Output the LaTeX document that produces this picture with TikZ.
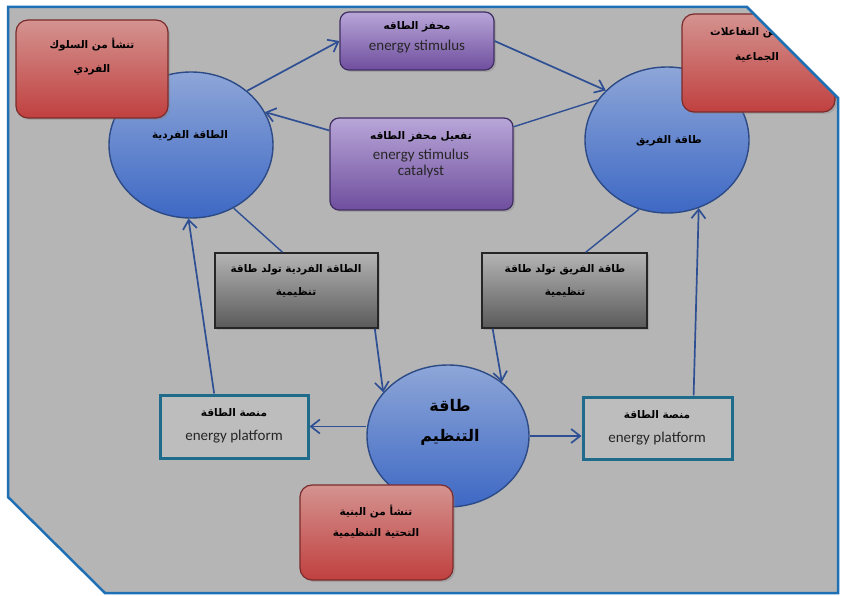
\documentclass[tikz,border=0pt]{standalone}
\usepackage{fontspec}
\setmainfont{Carlito}
\newfontfamily\arabicfont[Script=Arabic]{DejaVu Sans}
\TeXXeTstate=1
\usetikzlibrary{arrows.meta,shapes.geometric,shadows}
\newcommand\ArT[1]{{\arabicfont\bfseries\beginR #1\endR}}
\definecolor{panelgray}{HTML}{B5B5B5}
\definecolor{panelblue}{HTML}{1F6FB5}
\definecolor{circtop}{HTML}{8EA6D8}
\definecolor{circbot}{HTML}{3D68C4}
\definecolor{circline}{HTML}{2C4A86}
\definecolor{redtop}{HTML}{D49390}
\definecolor{redbot}{HTML}{C0403F}
\definecolor{redline}{HTML}{7B2B2B}
\definecolor{purtop}{HTML}{B8A6D8}
\definecolor{purbot}{HTML}{6F4E9E}
\definecolor{purline}{HTML}{3F2E63}
\definecolor{graytop}{HTML}{B4B4B4}
\definecolor{graybot}{HTML}{5A5A5A}
\definecolor{platline}{HTML}{1E6B8C}
\definecolor{platfill}{HTML}{BDBDBD}
\definecolor{arrblue}{HTML}{2F4F94}
\tikzset{
  circ/.style={ellipse, draw=circline, line width=1.4pt, top color=circtop, bottom color=circbot, minimum width=164pt, minimum height=146pt, inner sep=0pt},
  redbox/.style={rectangle, rounded corners=12pt, draw=redline, line width=1.2pt, top color=redtop, bottom color=redbot, inner sep=0pt, drop shadow={shadow xshift=2pt, shadow yshift=-2pt, opacity=0.35}},
  purbox/.style={rectangle, rounded corners=9pt, draw=purline, line width=1.2pt, top color=purtop, bottom color=purbot, inner sep=0pt, drop shadow={shadow xshift=2pt, shadow yshift=-2pt, opacity=0.35}},
  graybox/.style={rectangle, draw=black!85, line width=1.4pt, top color=graytop, bottom color=graybot, inner sep=0pt, drop shadow={shadow xshift=2pt, shadow yshift=-2pt, opacity=0.35}},
  platbox/.style={rectangle, draw=platline, line width=3pt, fill=platfill, inner sep=0pt},
  artext/.style={inner sep=0pt, font=\fontsize{10.5}{12}\selectfont, text=black},
  entext/.style={inner sep=0pt, font=\fontsize{15}{17}\selectfont, text=black!85},
  arr/.style={draw=arrblue, line width=1.7pt, -{Straight Barb[length=9pt,width=14pt,line width=1.7pt]}},
  ln/.style={draw=arrblue, line width=1.4pt},
}
\begin{document}
\begin{tikzpicture}[x=1pt,y=-1pt]
\useasboundingbox (0,0) rectangle (841,596);
\fill[white] (0,0) rectangle (841,596);
% panel
\fill[panelgray] (8,7) -- (747,7) -- (838,98) -- (838,593) -- (105,593) -- (8,497) -- cycle;

% circles
\node[circ] (lc) at (191,145) {};
\node[circ] (rc) at (667,140) {};
\node[circ, minimum width=162pt, minimum height=142pt] (bc) at (448,436) {};

% boxes
\node[redbox, minimum width=152pt, minimum height=98pt] (rtl) at (92,69) {};
\begin{scope}
\clip (0,0) -- (740,0) -- (841,101) -- (841,596) -- (0,596) -- cycle;
\node[redbox, minimum width=153pt, minimum height=98pt] (rtr) at (758.5,63) {};
\node[artext, anchor=west] (rtr1) at (710,32) {\ArT{تنشأ من التفاعلات}};
\end{scope}
\node[redbox, minimum width=153pt, minimum height=95pt] (rb) at (376.5,532.5) {};
\node[purbox, minimum width=154pt, minimum height=58pt] (sp) at (417,41) {};
\node[purbox, minimum width=183pt, minimum height=92pt] (mp) at (421.5,164) {};
\node[graybox, minimum width=163pt, minimum height=75pt] (lg) at (296.5,290.5) {};
\node[graybox, minimum width=165pt, minimum height=75pt] (rg) at (564.5,290.5) {};
\node[platbox, minimum width=148pt, minimum height=63pt] (lp) at (234,426.5) {};
\node[platbox, minimum width=149pt, minimum height=62pt] (rp) at (657.5,428) {};

% panel border
\draw[panelblue, line width=2.5pt, line join=miter] (8,7) -- (747,7) -- (838,98) -- (838,593) -- (105,593) -- (8,497) -- cycle;

% texts
\node[artext] (t1a) at (92,45) {\ArT{تنشأ من السلوك}};
\node[artext] (t1b) at (92,70) {\ArT{الفردي}};
\node[artext] (t2) at (190,136) {\ArT{الطاقة الفردية}};
\node[artext] (t3a) at (417,27) {\ArT{محفز الطاقه}};
\node[entext] (t3b) at (417,47) {energy stimulus};
\node[artext] (t4a) at (421,137) {\ArT{تفعيل محفز الطاقه}};
\node[entext] (t4b) at (421,156) {energy stimulus};
\node[entext] (t4c) at (421,172) {catalyst};
\node[artext] (t5) at (669,141) {\ArT{طاقة الفريق}};
\node[artext] (rtr2) at (757,57) {\ArT{الجماعية}};
\node[artext] (t6a) at (296,270) {\ArT{الطاقة الفردية تولد طاقة}};
\node[artext] (t6b) at (296,292) {\ArT{تنظيمية}};
\node[artext] (t7a) at (565,270) {\ArT{طاقة الفريق تولد طاقة}};
\node[artext] (t7b) at (565,292) {\ArT{تنظيمية}};
\node[artext, font=\fontsize{16}{18}\selectfont] (t8a) at (450,405) {\ArT{طاقة}};
\node[artext, font=\fontsize{16}{18}\selectfont] (t8b) at (450,437) {\ArT{التنظيم}};
\node[artext] (t9a) at (234,413) {\ArT{منصة الطاقة}};
\node[entext] (t9b) at (234,437) {energy platform};
\node[artext] (t10a) at (657,415) {\ArT{منصة الطاقة}};
\node[entext] (t10b) at (657,439) {energy platform};
\node[artext] (t11a) at (376,512) {\ArT{تنشأ من البنية}};
\node[artext] (t11b) at (376,533) {\ArT{التحتية التنظيمية}};

% connectors
\draw[arr] (lc.44) -- (sp.west);
\draw[arr] (sp.east) -- (rc.141);
\draw[arr] (mp.160) -- (lc.24);
\draw[ln] (mp.22) -- (rc.150);
\draw[ln] (lc.-56) -- (lg.110);
\draw[arr] (lg.-26) -- (bc.146);
\draw[ln] (rc.-112) -- (rg.61);
\draw[arr] (rg.-152) -- (bc.45);
\draw[arr] (bc.west |- lp.east) -- (lp.east);
\draw[arr] (bc.east) -- (bc.east -| rp.west);
\draw[arr] (lp.121) -- (lc.-92);
\draw[arr] (rp.42) -- (rc.-65);
\end{tikzpicture}
\end{document}
